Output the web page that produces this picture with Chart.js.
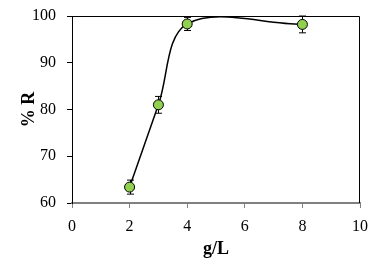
<!DOCTYPE html>
<html>
<head>
<meta charset="utf-8">
<script src="https://cdn.jsdelivr.net/npm/chart.js@4.4.0/dist/chart.umd.min.js"></script>
<style>
    html, body { margin: 0; padding: 0; background: #fff; }
    #wrap { width: 387px; height: 274px; }
</style>
</head>
<body>
<div id="wrap"><canvas id="chart"></canvas></div>
<script>
const X_VALUES = [2, 3, 4, 8];
const R_VALUES = [63.4, 81.0, 98.3, 98.2];
const R_ERRORS = [1.5, 1.8, 1.4, 1.8];

const X_TICKS = [0, 2, 4, 6, 8, 10];
const Y_TICKS = [60, 70, 80, 90, 100];

const SERIF = "'Liberation Serif', 'Times New Roman', Times, serif";

// error bars + box around the plot
var errorBarPlugin = {
    id: "errorBars",
    beforeDatasetsDraw: function(chart) {
        var ctx = chart.ctx;
        var xs = chart.scales.x;
        var ys = chart.scales.y;
        ctx.save();
        ctx.strokeStyle = "#000";
        ctx.lineWidth = 1;
        X_VALUES.forEach(function(xv, i) {
            var px = Math.round(xs.getPixelForValue(xv)) + 0.5;
            var top = ys.getPixelForValue(R_VALUES[i] + R_ERRORS[i]);
            var bot = ys.getPixelForValue(R_VALUES[i] - R_ERRORS[i]);
            ctx.beginPath();
            ctx.moveTo(px, top); ctx.lineTo(px, bot);
            ctx.moveTo(px - 3.5, top); ctx.lineTo(px + 3.5, top);
            ctx.moveTo(px - 3.5, bot); ctx.lineTo(px + 3.5, bot);
            ctx.stroke();
        });
        ctx.restore();
    },
    afterDraw: function(chart) {
        var a = chart.chartArea;
        var ctx = chart.ctx;
        ctx.save();
        ctx.strokeStyle = "#000";
        ctx.lineWidth = 1;
        ctx.beginPath();
        ctx.moveTo(a.left, a.top + 0.5);
        ctx.lineTo(a.right - 0.5, a.top + 0.5);
        ctx.lineTo(a.right - 0.5, a.bottom);
        ctx.stroke();
        ctx.restore();
    }
};

var points = X_VALUES.map(function(x, i) { return { x: x, y: R_VALUES[i] }; });

new Chart(document.getElementById("chart").getContext("2d"), {
    type: "scatter",
    data: {
        datasets: [{
            data: points,
            showLine: true,
            borderColor: "#000",
            borderWidth: 1.5,
            tension: 0.35,
            capBezierPoints: false,
            pointRadius: 5,
            pointBackgroundColor: "#92d050",
            pointBorderColor: "#000",
            pointBorderWidth: 1
        }]
    },
    options: {
        responsive: true,
        maintainAspectRatio: false,
        animation: false,
        layout: { padding: { top: 16, right: 27, left: 0, bottom: 0 } },
        plugins: {
            legend: { display: false },
            tooltip: { enabled: false }
        },
        scales: {
            x: {
                type: "linear",
                min: 0,
                max: 10,
                afterBuildTicks: function(s) { s.ticks = X_TICKS.map(function(v) { return { value: v }; }); },
                afterFit: function(s) { s.height = 71; s.paddingLeft = 0; s.paddingRight = 0; },
                border: { color: "#808080", width: 2 },
                grid: { drawOnChartArea: false, tickLength: 5, color: "#808080" },
                ticks: { color: "#000", padding: 9, font: { family: SERIF, size: 16 } },
                title: {
                    display: true,
                    text: "g/L",
                    color: "#000",
                    padding: { top: 0, bottom: 14 },
                    font: { family: SERIF, size: 18, weight: "bold" }
                }
            },
            y: {
                min: 60,
                max: 100,
                afterBuildTicks: function(s) { s.ticks = Y_TICKS.map(function(v) { return { value: v }; }); },
                afterFit: function(s) { s.width = 72; s.paddingTop = 0; s.paddingBottom = 0; },
                border: { color: "#000", width: 1 },
                grid: { drawOnChartArea: false, tickLength: 5, color: "#000" },
                ticks: { color: "#000", padding: 11, font: { family: SERIF, size: 16 } },
                title: {
                    display: true,
                    text: "% R",
                    color: "#000",
                    padding: { top: 19, bottom: 0 },
                    font: { family: SERIF, size: 18, weight: "bold" }
                }
            }
        }
    },
    plugins: [errorBarPlugin]
});
</script>
</body>
</html>
